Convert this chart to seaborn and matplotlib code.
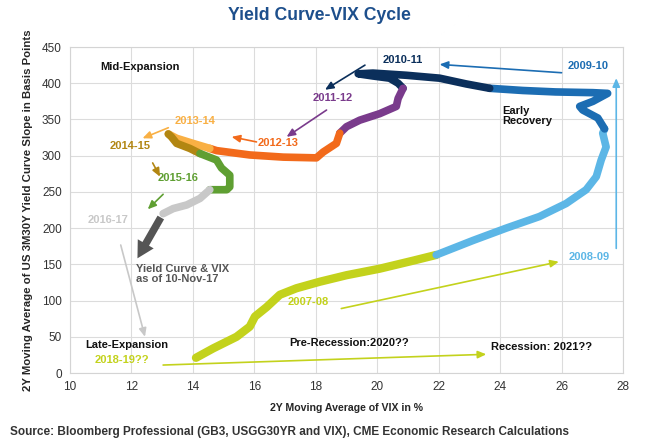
import matplotlib
matplotlib.use("Agg")
import matplotlib.pyplot as plt
import seaborn as sns
import pandas as pd

# VIX (2Y moving avg, %) and 3M30Y slope (2Y moving avg, bp) per cycle phase
periods = ["2007-08", "2008-09", "2009-10", "2010-11", "2011-12",
           "2012-13", "2013-14", "2014-15", "2015-16", "2016-17"]
vix_0708 = [14.1, 14.66, 15.42, 15.85, 16.02, 16.4, 16.83, 17.37, 18.13, 19.0, 20.08, 21.16, 21.92]
slope_0708 = [21, 34, 50, 64, 78, 91, 108, 117, 126, 135, 144, 155, 163]
vix_0809 = [21.92, 23.12, 24.2, 25.28, 26.15, 26.8, 27.13, 27.29, 27.45, 27.34, 27.4]
slope_0809 = [163, 183, 200, 216, 234, 253, 271, 294, 312, 331, 337]
vix_0910 = [27.4, 27.18, 26.69, 26.59, 27.02, 27.5, 27.02, 25.8, 24.74, 23.66]
slope_0910 = [337, 352, 363, 368, 375, 386, 387, 388, 390, 393]
vix_1011 = [23.66, 22.9, 22.03, 20.95, 19.86, 19.38, 19.86, 20.4, 20.68, 20.84]
slope_1011 = [393, 399, 407, 411, 414, 413, 410, 407, 400, 393]
vix_1112 = [20.84, 20.68, 20.62, 20.08, 19.43, 19.0, 18.78]
slope_1112 = [393, 379, 368, 358, 349, 340, 331]
vix_1213 = [18.78, 18.67, 18.24, 18.02, 16.94, 15.85, 14.77, 14.55]
slope_1213 = [331, 317, 305, 297, 298, 301, 307, 310]
vix_1314 = [14.55, 14.0, 13.47, 13.2]
slope_1314 = [310, 317, 324, 330]
vix_1415 = [13.2, 13.3, 13.47, 13.9, 14.23]
slope_1415 = [330, 326, 317, 310, 303]
vix_1516 = [14.23, 14.77, 14.93, 15.2, 15.2, 15.1, 14.55]
slope_1516 = [303, 294, 283, 273, 257, 253, 253]
vix_1617 = [14.55, 14.23, 13.8, 13.36, 13.03]
slope_1617 = [253, 241, 232, 227, 220]
# latest move, drawn as an arrow (to 10-Nov-17)
vix_latest = [13.0, 12.15]
slope_latest = [218, 155]

colors = {"2007-08": "#c3d21c", "2008-09": "#5cb6e6", "2009-10": "#1c6db3",
          "2010-11": "#0b2f5b", "2011-12": "#7a3b8c", "2012-13": "#f26a1b",
          "2013-14": "#f9b044", "2014-15": "#b28612", "2015-16": "#5f9f32",
          "2016-17": "#c8c8c8"}

vix_lists = [vix_0708, vix_0809, vix_0910, vix_1011, vix_1112,
             vix_1213, vix_1314, vix_1415, vix_1516, vix_1617]
slope_lists = [slope_0708, slope_0809, slope_0910, slope_1011, slope_1112,
               slope_1213, slope_1314, slope_1415, slope_1516, slope_1617]

sns.set_style("white")
plt.rcParams['font.family'] = ['Liberation Sans', 'DejaVu Sans']

fig = plt.figure(figsize=(6.46, 4.44), dpi=100)
ax = fig.add_axes([0.1084, 0.1599, 0.856, 0.7342])

for p, xs, ys in zip(periods, vix_lists, slope_lists):
    df = pd.DataFrame({"vix": xs, "slope": ys})
    sns.lineplot(data=df, x="vix", y="slope", sort=False, estimator=None,
                 color=colors[p], linewidth=6 if p == "2007-08" else 5.5,
                 solid_capstyle="round", ax=ax)

ax.annotate("", xy=(vix_latest[1], slope_latest[1]), xytext=(vix_latest[0], slope_latest[0]),
            arrowprops=dict(arrowstyle="simple,head_width=1.1,head_length=1.0,tail_width=0.45",
                            color="#555555", lw=0, mutation_scale=12))

ax.set_xlim(10, 28)
ax.set_ylim(0, 450)
ax.set_xticks(range(10, 29, 2))
ax.set_yticks(range(0, 451, 50))
ax.grid(True, color="#dcdcdc", lw=0.8)
ax.set_axisbelow(True)
for s in ax.spines.values():
    s.set_color("#d4d4d4")
    s.set_linewidth(0.8)
ax.tick_params(length=0, labelsize=8.5, colors="#333333", pad=6)
ax.set_xlabel("2Y Moving Average of VIX in %", fontsize=7.6, fontweight="bold", labelpad=7)
ax.set_ylabel("2Y Moving Average of US 3M30Y Yield Curve Slope in Basis Points",
              fontsize=8.2, fontweight="bold", labelpad=6)


def arrow(start, end, color, lw=1.2):
    ax.annotate("", xy=end, xytext=start,
                arrowprops=dict(arrowstyle="-|>,head_length=0.5,head_width=0.22",
                                color=color, lw=lw, shrinkA=0, shrinkB=0))


lab = dict(fontsize=8, fontweight="bold", va="center")
ax.text(10.98, 422, "Mid-Expansion", color="#111111", ha="left", **lab)
ax.text(24.08, 355, "Early\nRecovery", color="#111111", ha="left", linespacing=1.0, **lab)
ax.text(10.49, 38.6, "Late-Expansion", color="#111111", ha="left", **lab)
ax.text(17.15, 42, "Pre-Recession:2020??", color="#111111", ha="left", **lab)
ax.text(23.71, 35.5, "Recession: 2021??", color="#111111", ha="left", **lab)
ax.text(12.15, 137, "Yield Curve & VIX\nas of 10-Nov-17", color="#555555", ha="left",
        linespacing=1.0, **lab)

ax.text(14.07, 348, "2013-14", color=colors["2013-14"], ha="center", **lab)
ax.text(11.95, 313, "2014-15", color=colors["2014-15"], ha="center", **lab)
ax.text(16.76, 317.5, "2012-13", color=colors["2012-13"], ha="center", **lab)
ax.text(18.55, 379, "2011-12", color=colors["2011-12"], ha="center", **lab)
ax.text(20.83, 432, "2010-11", color=colors["2010-11"], ha="center", **lab)
ax.text(26.85, 424, "2009-10", color=colors["2009-10"], ha="center", **lab)
ax.text(26.9, 160.5, "2008-09", color=colors["2008-09"], ha="center", **lab)
ax.text(17.75, 98.5, "2007-08", color=colors["2007-08"], ha="center", **lab)
ax.text(13.51, 269, "2015-16", color=colors["2015-16"], ha="center", **lab)
ax.text(11.24, 211, "2016-17", color=colors["2016-17"], ha="center", **lab)
ax.text(11.7, 18, "2018-19??", color=colors["2007-08"], ha="center", **lab)

arrow((13.2, 338.6), (12.36, 324), colors["2013-14"])
arrow((16.07, 319), (15.26, 326), colors["2012-13"])
arrow((18.35, 363), (17.05, 326), colors["2011-12"])
arrow((19.6, 425), (18.3, 391), colors["2010-11"])
arrow((26.0, 414.5), (22.03, 426), colors["2009-10"])
arrow((27.78, 172), (27.78, 407), colors["2008-09"])
arrow((18.83, 89), (25.91, 153.6), colors["2007-08"])
arrow((13.03, 11), (23.55, 25.8), colors["2007-08"])
arrow((12.69, 290), (12.93, 271), colors["2014-15"])
arrow((13.03, 246.7), (12.53, 226), colors["2015-16"])
arrow((11.65, 176.7), (12.44, 50), colors["2016-17"])

fig.text(0.494, 0.966, "Yield Curve-VIX Cycle", fontsize=12.7, fontweight="bold",
         color="#1d4f8c", ha="center", va="center")
fig.text(0.015, 0.027, "Source: Bloomberg Professional (GB3, USGG30YR and VIX), CME Economic Research Calculations",
         fontsize=8.5, fontweight="bold", color="#333333", ha="left", va="center")

fig.savefig("out.png", dpi=100)
